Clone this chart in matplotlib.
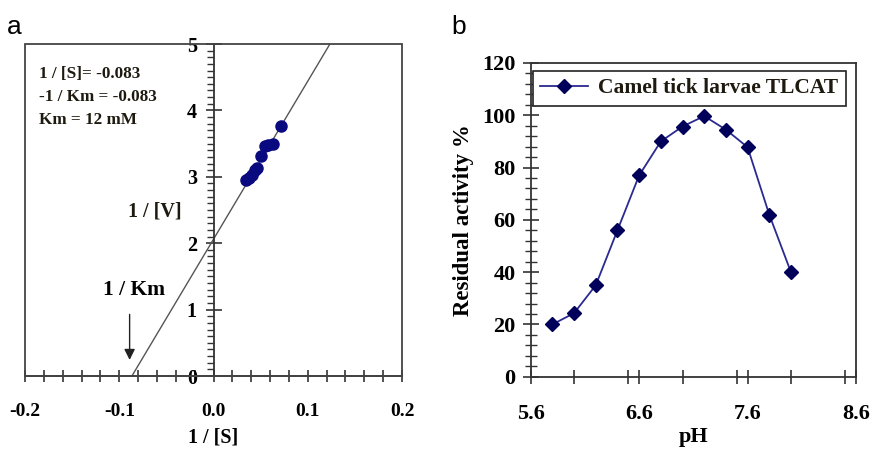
import matplotlib
matplotlib.use("Agg")
import matplotlib.pyplot as plt
from matplotlib.ticker import MultipleLocator
from matplotlib.patches import Rectangle

plt.rcParams['font.family'] = ['Liberation Serif', 'DejaVu Serif']
plt.rcParams['font.weight'] = 'bold'

# ---- panel a data (Lineweaver-Burk) ----
inv_s = [0.035, 0.038, 0.041, 0.044, 0.046, 0.050, 0.055, 0.058, 0.063, 0.072]
inv_v = [2.95, 2.98, 3.03, 3.10, 3.13, 3.32, 3.46, 3.48, 3.50, 3.77]
fit_slope = 23.8
fit_intercept = 2.06
fit_x = [-0.0866, 0.1236]
notes = ["1 / [S]= -0.083", "-1 / Km = -0.083", "Km = 12 mM"]

# ---- panel b data (pH profile) ----
ph = [5.8, 6.0, 6.2, 6.4, 6.6, 6.8, 7.0, 7.2, 7.4, 7.6, 7.8, 8.0]
activity = [20, 24.3, 35, 56, 77, 90, 95.7, 99.7, 94.5, 87.8, 62, 40]
series_name = "Camel tick larvae TLCAT"

W, H = 872, 454
fig = plt.figure(figsize=(W/100, H/100), dpi=100)

def ax_rect(l, r, t, b):
    return [l/W, 1-b/H, (r-l)/W, (b-t)/H]

text_col = '#1e1a10'

# ---------------- panel a ----------------
ax = fig.add_axes(ax_rect(25, 402, 44, 376))
ax.set_xlim(-0.2, 0.2)
ax.set_ylim(0, 5)
for s in ['top', 'right']:
    ax.spines[s].set_visible(False)
ax.spines['left'].set_position(('data', 0))
ax.spines['bottom'].set_position(('data', 0))
for s in ['left', 'bottom']:
    ax.spines[s].set_color('#333333')
    ax.spines[s].set_linewidth(1.3)
ax.add_patch(Rectangle((0, 0), 1, 1, transform=ax.transAxes, fill=False,
                       ec='#444444', lw=1.3, clip_on=False, zorder=3))

fx = fit_x
fy = [fit_intercept + fit_slope * v for v in fx]
ax.plot(fx, fy, color='#555555', lw=1.0, zorder=2)
ax.plot(inv_s, inv_v, 'o', color='#0a0a80', ms=8, mec='#0a0a80', zorder=4)

ax.xaxis.set_major_locator(MultipleLocator(0.1))
ax.xaxis.set_minor_locator(MultipleLocator(0.02))
ax.yaxis.set_major_locator(MultipleLocator(1))
ax.yaxis.set_minor_locator(MultipleLocator(0.1))
ax.tick_params(axis='x', which='both', direction='inout', length=9, width=1.2,
               color='#333333', labelsize=14, pad=15)
ax.tick_params(axis='y', which='major', direction='inout', length=12, width=1.2,
               color='#333333', labelsize=14.5, pad=6)
ax.tick_params(axis='y', which='minor', direction='out', length=5, width=1.0,
               color='#333333')
ax.set_xticks([-0.2, -0.1, 0.0, 0.1, 0.2])
ax.set_xticklabels(['-0.2', '-0.1', '0.0', '0.1', '0.2'])
for lab in ax.get_xticklabels() + ax.get_yticklabels():
    lab.set_fontweight('bold')
ax.set_xlabel('1 / [S]', fontsize=14.5, fontweight='bold', labelpad=5)

ax.text(-0.062, 2.47, '1 / [V]', fontsize=14.5, fontweight='bold', ha='center',
        va='center', color=text_col)
ax.text(-0.0843, 1.30, '1 / Km', fontsize=15.5, fontweight='heavy', ha='center',
        va='center', color='black')
ax.annotate('', xy=(-0.089, 0.2), xytext=(-0.089, 0.97),
            arrowprops=dict(arrowstyle='-|>', color='#222222', lw=1.0,
                            mutation_scale=16))
for i, t in enumerate(notes):
    ax.text(-0.185, 4.55 - i * 0.345, t, fontsize=12.3, fontweight='bold',
            ha='left', va='center', color=text_col)

fig.text(7/W, 1-27/H, 'a', fontsize=19, family='Liberation Sans',
         fontweight='normal', va='center', ha='left')

# ---------------- panel b ----------------
bx = fig.add_axes(ax_rect(530.7, 856, 63, 376.7))
bx.set_xlim(5.6, 8.6)
bx.set_ylim(0, 120)
for s in bx.spines.values():
    s.set_color('#333333')
    s.set_linewidth(1.3)
bx.plot(ph, activity, color='#2a2a90', lw=1.3, marker='D', ms=7.5,
        mfc='#00005a', mec='#00005a', label=series_name)
bx.set_xticks([5.6, 6.6, 7.6, 8.6])
bx.set_xticklabels(['5.6', '6.6', '7.6', '8.6'])
bx.xaxis.set_minor_locator(MultipleLocator(0.5))
bx.yaxis.set_major_locator(MultipleLocator(20))
bx.yaxis.set_minor_locator(MultipleLocator(4))
bx.tick_params(axis='x', which='both', direction='inout', length=10, width=1.2,
               color='#333333', labelsize=16, pad=15)
bx.tick_params(axis='y', which='major', direction='inout', length=12, width=1.2,
               color='#333333', labelsize=16, pad=5)
bx.tick_params(axis='y', which='minor', direction='inout', length=9, width=1.0,
               color='#333333')
for lab in bx.get_xticklabels() + bx.get_yticklabels():
    lab.set_fontweight('bold')
bx.set_xlabel('pH', fontsize=16, fontweight='bold', labelpad=2)
bx.set_ylabel('Residual activity %', fontsize=16.5, fontweight='bold', labelpad=6)
leg = bx.legend(loc='upper left', bbox_to_anchor=(0.006, 0.975), borderaxespad=0,
                fancybox=False, edgecolor='#222222', framealpha=1,
                prop={'family': 'Liberation Serif', 'weight': 'bold', 'size': 15.5},
                handlelength=2.2, borderpad=0.35, handletextpad=0.5)
leg.get_frame().set_linewidth(1.2)
for t in leg.get_texts():
    t.set_color(text_col)

fig.text(451/W, 1-27/H, 'b', fontsize=19, family='Liberation Sans',
         fontweight='normal', va='center', ha='left')

fig.savefig('out.png', dpi=100)
